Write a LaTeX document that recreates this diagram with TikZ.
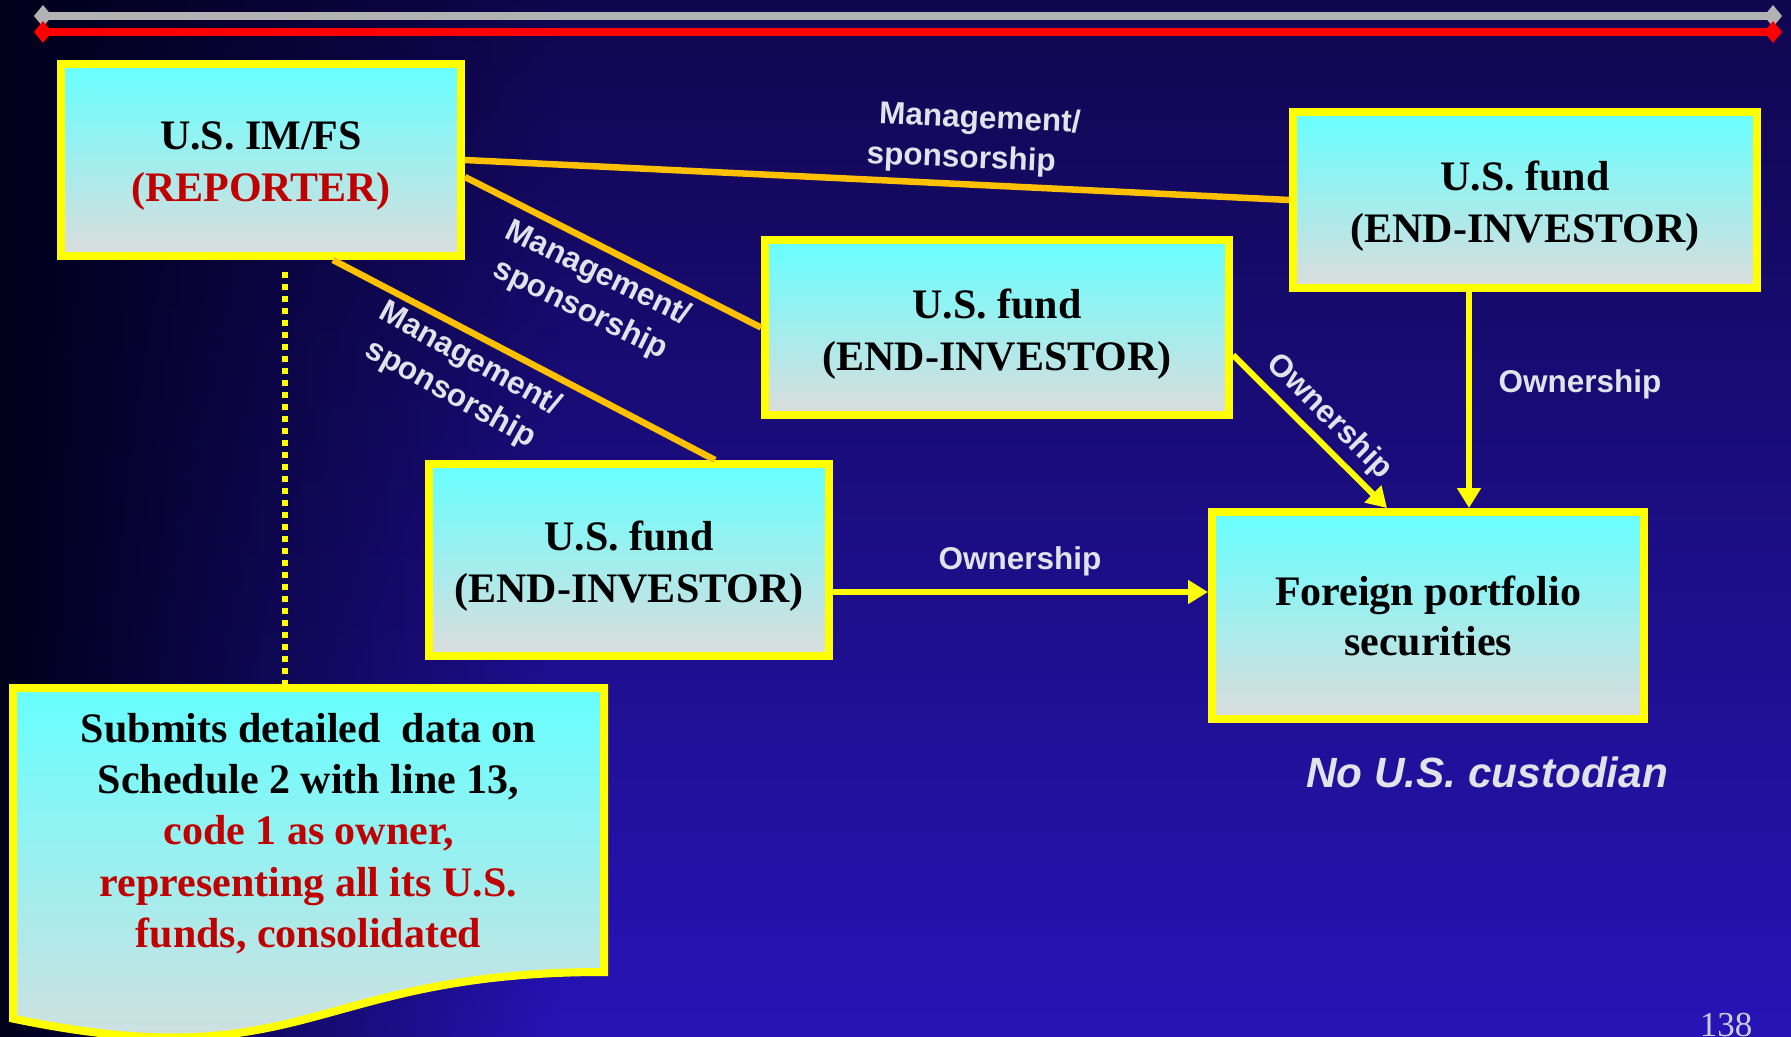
\documentclass[tikz,border=0pt]{standalone}
\usepackage{fontspec}
\setmainfont{Liberation Serif}
\newfontfamily\labsans{Liberation Sans}
\usetikzlibrary{arrows.meta,fadings}
\definecolor{bgtop}{HTML}{10064E}
\definecolor{bgbot}{HTML}{2614B6}
\definecolor{bgdark}{HTML}{00001A}
\definecolor{byellow}{HTML}{FFFF00}
\definecolor{btop}{HTML}{66FFFF}
\definecolor{bbot}{HTML}{DCDCDC}
\definecolor{morange}{HTML}{FFC000}
\definecolor{repred}{HTML}{C00000}
\definecolor{labgray}{HTML}{E2E2EA}
\definecolor{bargray}{HTML}{B2B2B2}
\definecolor{barred}{HTML}{FF0000}
\definecolor{pnumgray}{HTML}{CCCCDC}
\begin{document}
\begin{tikzpicture}[x=0.5pt,y=-0.5pt,
  fbox/.style={draw=byellow, line width=4pt, top color=btop, bottom color=bbot, inner sep=0pt},
  btxt/.style={font=\fontsize{21}{26}\selectfont\bfseries, align=center, anchor=north, inner sep=0pt, text=black},
  lab/.style={font=\labsans\bfseries\fontsize{15.75}{20}\selectfont, text=labgray, align=center, inner sep=0pt},
  mgmt/.style={draw=morange, line width=3.25pt},
  own/.style={draw=byellow, line width=3pt, -{Triangle[length=10pt,width=11.5pt]}},
  dotl/.style={draw=byellow, line width=2.7pt, dash pattern=on 3pt off 3pt},
]
\useasboundingbox (0,0) rectangle (1791,1037);
% background
\shade[top color=bgtop, bottom color=bgbot] (0,0) rectangle (1791,1037);
\fill[bgdark, path fading=east] (0,0) rectangle (560,1037);
% top bars
\draw[line width=4pt, bargray] (43,16) -- (1773,16);
\fill[bargray] (43,5) -- (52,16) -- (43,27) -- (34,16) -- cycle;
\fill[bargray] (1773,5) -- (1782,16) -- (1773,27) -- (1764,16) -- cycle;
\draw[line width=4pt, barred] (43,32) -- (1773,32);
\fill[barred] (43,21) -- (52,32) -- (43,43) -- (34,32) -- cycle;
\fill[barred] (1773,21) -- (1782,32) -- (1773,43) -- (1764,32) -- cycle;

% boxes
\node[fbox, minimum width=200pt, minimum height=96pt] (imfs) at (261,160) {};
\node[fbox, minimum width=232pt, minimum height=88pt] (fundA) at (1525,200) {};
\node[fbox, minimum width=232pt, minimum height=87.5pt] (fundB) at (997,327.5) {};
\node[fbox, minimum width=200pt, minimum height=96pt] (fundC) at (629,560) {};
\node[fbox, minimum width=216pt, minimum height=103.5pt] (foreign) at (1428,615.5) {};

\node[btxt] (imfsT) at (261,121) {U.S. IM/FS\\\textcolor{repred}{(REPORTER)}};
\node[btxt] (fundAT) at (1525,161) {U.S. fund\\(END-INVESTOR)};
\node[btxt] (fundBT) at (997,289) {U.S. fund\\(END-INVESTOR)};
\node[btxt] (fundCT) at (629,521) {U.S. fund\\(END-INVESTOR)};
\node[btxt, font=\fontsize{21}{25}\selectfont\bfseries] (foreignT) at (1428,576) {Foreign portfolio\\securities};

% document shape
\draw[draw=byellow, line width=4pt, top color=btop, bottom color=bbot]
  (13,688) -- (604,688) -- (604,972) .. controls (308.5,972) and (308.5,1080) .. (13,1018.6) -- cycle;
\coordinate (docTop) at (285,684);
\node[btxt, font=\fontsize{21}{25.6}\selectfont\bfseries] (docT) at (308.5,713)
  {Submits detailed~ data on\\Schedule 2 with line 13,\\\textcolor{repred}{code 1 as owner,}\\\textcolor{repred}{representing all its U.S.}\\\textcolor{repred}{funds, consolidated}};

% dotted connector
\draw[dotl] ([xshift=12pt,yshift=-6pt]imfs.south) -- (docTop);

% management lines
\draw[mgmt] (imfs.east) -- (fundA.west);
\draw[mgmt] ([yshift=-8.5pt]imfs.east) -- (fundB.west);
\draw[mgmt] ([xshift=36pt]imfs.south) -- ([xshift=43pt]fundC.north);

% ownership arrows
\draw[own] ([yshift=-16pt]fundC.east) -- ([yshift=-16pt]fundC.east -| foreign.west);
\draw[own] ([xshift=-28pt]fundA.south) -- ([xshift=-28pt]fundA.south |- foreign.north);
\draw[own] ([yshift=-13.75pt]fundB.east) -- ([xshift=-20.5pt]foreign.north);

% labels
\node[lab, rotate=-2.5] (labA) at (979,140) {Management/\\sponsorship\hspace*{17pt}};
\node[lab, rotate=-26] (labB) at (589,292) {Management/\\sponsorship};
\node[lab, rotate=-29] (labC) at (460,377) {Management/\\sponsorship};
\node[lab] (ownC) at (1020,561) {Ownership};
\node[lab] (ownA) at (1580,384) {Ownership};
\node[lab, rotate=-45] (ownB) at (1329,417) {Ownership};

\node[font=\labsans\bfseries\itshape\fontsize{21.15}{25}\selectfont, text=labgray, inner sep=0pt] (nocust) at (1487,772) {No U.S. custodian};
\node[font=\fontsize{17.5}{20}\selectfont, text=pnumgray, anchor=base, inner sep=0pt] (pnum) at (1726,1036) {138};
\end{tikzpicture}
\end{document}
